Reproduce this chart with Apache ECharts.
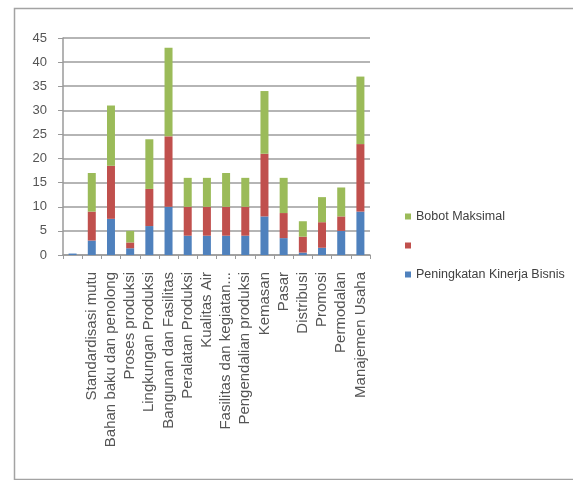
<!DOCTYPE html>
<html>
<head>
<meta charset="utf-8">
<script src="https://cdn.jsdelivr.net/npm/echarts@6/dist/echarts.min.js"></script>
<style>
  html, body { margin: 0; padding: 0; background: #ffffff; }
  #chart { width: 573px; height: 480px; }
</style>
</head>
<body>
<div id="chart"></div>
<script>
// Category labels along the bottom (first slot has no label)
var categories = [
  '',
  'Standardisasi mutu',
  'Bahan baku dan penolong',
  'Proses produksi',
  'Lingkungan Produksi',
  'Bangunan dan Fasilitas',
  'Peralatan Produksi',
  'Kualitas Air',
  'Fasilitas dan kegiatan...',
  'Pengendalian produksi',
  'Kemasan',
  'Pasar',
  'Distribusi',
  'Promosi',
  'Permodalan',
  'Manajemen Usaha'
];

// Stacked segments, bottom to top
var kinerjaBisnis = [0.3, 3, 7.5, 1.4, 6, 10, 4, 4, 4, 4, 8, 3.5, 0.5, 1.5, 5, 9];
var seriesTengah  = [0, 6, 11, 1.2, 7.7, 14.6, 6, 6, 6, 6, 13, 5.2, 3.3, 5.3, 3, 14];
var bobotMaksimal = [0, 8, 12.5, 2.4, 10.3, 18.4, 6, 6, 7, 6, 13, 7.3, 3.2, 5.2, 6, 14];

var yTicks = { min: 0, max: 45, interval: 5 };

var names = {
  blue: 'Peningkatan Kinerja Bisnis',
  red: ' ',
  green: 'Bobot Maksimal'
};

var chart = echarts.init(document.getElementById('chart'), null, { renderer: 'canvas' });

var labelFont = 'Liberation Sans, Arial, sans-serif';

chart.setOption({
  animation: false,
  backgroundColor: '#ffffff',
  graphic: [{
    type: 'rect',
    left: 12, top: 6,
    shape: { width: 600, height: 471 },
    style: { fill: 'none', stroke: '#a3a3a3', lineWidth: 1.5 },
    silent: true
  }],
  grid: { left: 63, right: 203, top: 38, bottom: 225 },
  legend: {
    orient: 'vertical',
    left: 400, top: 205,
    icon: 'rect',
    itemWidth: 6, itemHeight: 6,
    itemGap: 16,
    data: [names.green, names.red, names.blue],
    textStyle: { color: '#404040', fontSize: 12.5, fontFamily: labelFont }
  },
  xAxis: {
    type: 'category',
    data: categories,
    axisLine: { show: true, lineStyle: { color: '#9a9a9a', width: 1.5 } },
    axisTick: { show: true, alignWithLabel: false, length: 4, lineStyle: { color: '#9a9a9a' } },
    axisLabel: {
      interval: 0, rotate: 90, margin: 17,
      color: '#555555', fontSize: 15, fontFamily: labelFont
    }
  },
  yAxis: {
    type: 'value',
    min: yTicks.min, max: yTicks.max, interval: yTicks.interval,
    axisLine: { show: true, lineStyle: { color: '#9a9a9a', width: 1.5 } },
    axisTick: { show: true, length: 5, lineStyle: { color: '#9a9a9a' } },
    axisLabel: { color: '#555555', fontSize: 13, margin: 16, fontFamily: labelFont },
    splitLine: { show: true, lineStyle: { color: '#9c9c9c', width: 1.5 } }
  },
  series: [
    { name: names.blue, type: 'bar', stack: 'total', barWidth: 8, data: kinerjaBisnis, itemStyle: { color: '#4F81BD' } },
    { name: names.red, type: 'bar', stack: 'total', barWidth: 8, data: seriesTengah, itemStyle: { color: '#C0504D' } },
    { name: names.green, type: 'bar', stack: 'total', barWidth: 8, data: bobotMaksimal, itemStyle: { color: '#9BBB59' } }
  ]
});
</script>
</body>
</html>
